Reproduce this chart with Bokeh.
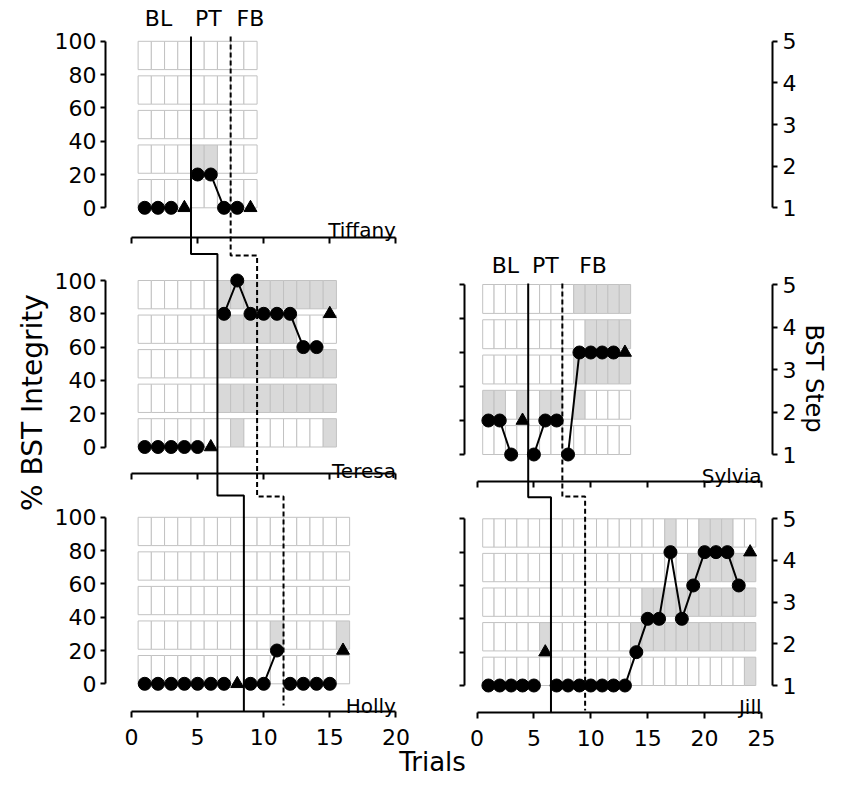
import math
from bokeh.plotting import figure
from bokeh.models import (Range1d, LinearAxis, FixedTicker, Label,
                          ColumnDataSource, CustomJSTickFormatter)
from bokeh.embed import file_html
from bokeh.resources import INLINE

# ---------------- data ----------------
participants = ["Tiffany", "Teresa", "Holly", "Sylvia", "Jill"]

tiffany_trials = [1, 2, 3, 4, 5, 6, 7, 8, 9]
tiffany_integrity = [0, 0, 0, 0, 20, 20, 0, 0, 0]
tiffany_probes = [4, 9]
tiffany_phase_starts = [5, 8]          # first PT trial, first FB trial
tiffany_shaded = {2: [5, 6]}           # step row -> shaded trials

teresa_trials = [1, 2, 3, 4, 5, 6, 7, 8, 9, 10, 11, 12, 13, 14, 15]
teresa_integrity = [0, 0, 0, 0, 0, 0, 80, 100, 80, 80, 80, 80, 60, 60, 80]
teresa_probes = [6, 15]
teresa_phase_starts = [7, 10]
teresa_shaded = {1: [8, 15],
                 2: [7, 8, 9, 10, 11, 12, 13, 14, 15],
                 3: [7, 8, 9, 10, 11, 12, 13, 14, 15],
                 4: [7, 8, 9, 10, 11, 12],
                 5: [7, 8, 9, 10, 11, 12, 13, 14, 15]}

holly_trials = [1, 2, 3, 4, 5, 6, 7, 8, 9, 10, 11, 12, 13, 14, 15, 16]
holly_integrity = [0, 0, 0, 0, 0, 0, 0, 0, 0, 0, 20, 0, 0, 0, 0, 20]
holly_probes = [8, 16]
holly_phase_starts = [9, 12]
holly_shaded = {2: [11, 16]}

sylvia_trials = [1, 2, 3, 4, 5, 6, 7, 8, 9, 10, 11, 12, 13]
sylvia_integrity = [20, 20, 0, 20, 0, 20, 20, 0, 60, 60, 60, 60, 60]
sylvia_probes = [4, 13]
sylvia_phase_starts = [5, 8]
sylvia_shaded = {2: [1, 2, 4, 6, 7, 9],
                 3: [9, 10, 11, 12, 13],
                 4: [10, 11, 12, 13],
                 5: [9, 10, 11, 12, 13]}

jill_trials = [1, 2, 3, 4, 5, 6, 7, 8, 9, 10, 11, 12, 13, 14, 15, 16, 17, 18,
               19, 20, 21, 22, 23, 24]
jill_integrity = [0, 0, 0, 0, 0, 20, 0, 0, 0, 0, 0, 0, 0, 20, 40, 40, 80, 40,
                  60, 80, 80, 80, 60, 80]
jill_probes = [6, 24]
jill_phase_starts = [7, 10]
jill_shaded = {1: [24],
               2: [6, 14, 15, 16, 17, 18, 19, 20, 21, 22, 23, 24],
               3: [15, 16, 17, 18, 19, 20, 21, 22, 23, 24],
               4: [19, 20, 21, 22, 23, 24],
               5: [17, 20, 21, 22]}

phase_names = ["BL", "PT", "FB"]
integrity_ticks = [0, 20, 40, 60, 80, 100]
step_ticks = [1, 2, 3, 4, 5]
left_trial_ticks = [0, 5, 10, 15, 20]
right_trial_ticks = [0, 5, 10, 15, 20, 25]

DATA = {
    "Tiffany": (tiffany_trials, tiffany_integrity, tiffany_probes, tiffany_phase_starts, tiffany_shaded),
    "Teresa": (teresa_trials, teresa_integrity, teresa_probes, teresa_phase_starts, teresa_shaded),
    "Holly": (holly_trials, holly_integrity, holly_probes, holly_phase_starts, holly_shaded),
    "Sylvia": (sylvia_trials, sylvia_integrity, sylvia_probes, sylvia_phase_starts, sylvia_shaded),
    "Jill": (jill_trials, jill_integrity, jill_probes, jill_phase_starts, jill_shaded),
}

# ---------------- layout (canvas pixels) and style ----------------
W, H = 829, 778
FONT = "DejaVu Sans"
CELL_FILL = "white"
SHADE_FILL = "#d9d9d9"
CELL_LINE = "#c2c2c2"
ROW_H, ROW_PITCH = 17.0, 20.75          # step rows in % units

COLS = {"L": dict(x0=131.0, ppu=13.22, yaxis_x=105.0, ticks=left_trial_ticks,
                  members=["Tiffany", "Teresa", "Holly"]),
        "R": dict(x0=476.5, ppu=11.38, yaxis_x=464.0, ticks=right_trial_ticks,
                  members=["Sylvia", "Jill"])}
STEP_AXIS_X = 772.0

PANEL = {
    "Tiffany": dict(col="L", y0=207.3, y100=40.8, xaxis=237.0, name_y=229.3,
                    ylabels=True, xlabels=False, step_axis=True),
    "Teresa": dict(col="L", y0=446.5, y100=280.0, xaxis=473.3, name_y=470.0,
                   ylabels=True, xlabels=False, step_axis=False),
    "Holly": dict(col="L", y0=683.3, y100=516.8, xaxis=710.5, name_y=705.0,
                  ylabels=True, xlabels=True, step_axis=False),
    "Sylvia": dict(col="R", y0=454.0, y100=284.0, xaxis=481.0, name_y=475.0,
                   ylabels=False, xlabels=False, step_axis=True),
    "Jill": dict(col="R", y0=685.0, y100=518.3, xaxis=711.5, name_y=706.7,
                 ylabels=False, xlabels=True, step_axis=True),
}
PHASE_LINE_Y = {"L": {"solid": [36, 253.5, 495, 710.5], "dashed": [36, 255, 496, 705]},
                "R": {"solid": [283, 496.7, 711.5], "dashed": [283, 496, 710]}}
PHASE_LABEL_POS = {"Tiffany": ([2.04, 5.82, 9.0], 18.0),
                   "Sylvia": ([2.5, 6.0, 10.2], 265.0)}


def trial_at(col, cx):
    c = COLS[col]
    return (cx - c["x0"]) / c["ppu"]


def pct_at(name, cy):
    l = PANEL[name]
    return (l["y0"] - cy) / (l["y0"] - l["y100"]) * 100.0


p = figure(width=W, height=H, output_backend="svg", toolbar_location=None,
           x_range=Range1d(0, W), y_range=Range1d(H, 0),
           x_axis_location=None, y_axis_location=None, min_border=0,
           outline_line_color=None, background_fill_color="white",
           border_fill_color="white")
p.grid.visible = False

p.extra_x_ranges = {"x" + c: Range1d(trial_at(c, 0), trial_at(c, W)) for c in COLS}
yr = {}
for name in participants:
    lo, hi = pct_at(name, H), pct_at(name, 0)
    yr["y" + name] = Range1d(lo, hi)
    yr["s" + name] = Range1d(1 + lo / 25.0, 1 + hi / 25.0)
p.extra_y_ranges = yr


def axis_style(ax, labels, size="22px", standoff=4, tick_out=5):
    ax.axis_line_width = 2
    ax.axis_line_color = "black"
    ax.major_tick_line_width = 2
    ax.major_tick_line_color = "black"
    ax.major_tick_in = 0
    ax.major_tick_out = tick_out
    ax.minor_tick_line_color = None
    ax.major_label_text_font = FONT
    ax.major_label_text_font_size = size
    ax.major_label_text_color = "black"
    ax.major_label_standoff = standoff
    if not labels:
        ax.formatter = CustomJSTickFormatter(code="return ''")


# ---------------- cells ----------------
for name in participants:
    trials, vals, probes, starts, shaded = DATA[name]
    lay = PANEL[name]
    xr_name, yr_name = "x" + lay["col"], "y" + name
    L, R, B, T, F = [], [], [], [], []
    for t in trials:
        for row in step_ticks:
            b = (row - 1) * ROW_PITCH
            L.append(t - 0.5); R.append(t + 0.5); B.append(b); T.append(b + ROW_H)
            F.append(SHADE_FILL if t in shaded.get(row, []) else CELL_FILL)
    src = ColumnDataSource(dict(left=L, right=R, bottom=B, top=T, fill=F))
    p.quad(left="left", right="right", bottom="bottom", top="top", source=src,
           fill_color="fill", line_color=CELL_LINE, line_width=1,
           x_range_name=xr_name, y_range_name=yr_name)

# ---------------- phase-change lines ----------------
for col, c in COLS.items():
    for kind, idx in (("solid", 0), ("dashed", 1)):
        ylist = PHASE_LINE_Y[col][kind]
        xs, ys = [], []
        for i, name in enumerate(c["members"]):
            x = DATA[name][3][idx] - 0.5
            xs += [x, x]
            ys += [ylist[i], ylist[i + 1]]
        p.line(xs, ys, line_color="black", line_width=2,
               line_dash="solid" if kind == "solid" else "5 3",
               x_range_name="x" + col)

# ---------------- data series ----------------
for name in participants:
    trials, vals, probes, starts, shaded = DATA[name]
    lay = PANEL[name]
    col = lay["col"]
    xr_name, yr_name = "x" + col, "y" + name
    bounds = [trials[0], starts[0], starts[1], trials[-1] + 1]
    for k in range(3):
        pts = [(t, v) for t, v in zip(trials, vals)
               if bounds[k] <= t < bounds[k + 1] and t not in probes]
        if len(pts) >= 2:
            p.line([q[0] for q in pts], [q[1] for q in pts], line_color="black",
                   line_width=2, x_range_name=xr_name, y_range_name=yr_name)
    cx = [t for t in trials if t not in probes]
    cy = [v for t, v in zip(trials, vals) if t not in probes]
    tx = [t for t in trials if t in probes]
    ty = [v for t, v in zip(trials, vals) if t in probes]
    p.scatter(cx, cy, marker="circle", size=13, fill_color="black", line_color="black",
              x_range_name=xr_name, y_range_name=yr_name)
    p.scatter(tx, ty, marker="triangle", size=13, fill_color="black", line_color="black",
              x_range_name=xr_name, y_range_name=yr_name)

    # axes
    yax = LinearAxis(x_range_name=xr_name, y_range_name=yr_name,
                     fixed_location=trial_at(col, COLS[col]["yaxis_x"]),
                     bounds=(integrity_ticks[0], integrity_ticks[-1]),
                     ticker=FixedTicker(ticks=integrity_ticks))
    axis_style(yax, lay["ylabels"])
    p.add_layout(yax, "left")

    xax = LinearAxis(x_range_name=xr_name, y_range_name=yr_name,
                     fixed_location=pct_at(name, lay["xaxis"]),
                     bounds=(COLS[col]["ticks"][0], COLS[col]["ticks"][-1]),
                     ticker=FixedTicker(ticks=COLS[col]["ticks"]))
    axis_style(xax, lay["xlabels"], standoff=12, tick_out=6)
    p.add_layout(xax, "below")

    if lay["step_axis"]:
        sax = LinearAxis(x_range_name="xR", y_range_name="s" + name,
                         fixed_location=trial_at("R", STEP_AXIS_X),
                         bounds=(step_ticks[0], step_ticks[-1]),
                         ticker=FixedTicker(ticks=step_ticks))
        axis_style(sax, True, standoff=5)
        p.add_layout(sax, "right")

    # participant name
    right_edge = COLS[col]["ticks"][-1]
    p.add_layout(Label(x=right_edge, y=pct_at(name, lay["name_y"]), text=name,
                       x_range_name=xr_name, y_range_name=yr_name,
                       text_align="right", text_baseline="alphabetic",
                       text_font=FONT, text_font_size="20px", text_color="black"))

# phase labels
for name, (xs, cyy) in PHASE_LABEL_POS.items():
    col = PANEL[name]["col"]
    for x, lab in zip(xs, phase_names):
        p.add_layout(Label(x=x, y=pct_at(name, cyy), text=lab,
                           x_range_name="x" + col, y_range_name="y" + name,
                           text_align="center", text_baseline="middle",
                           text_font=FONT, text_font_size="22px", text_color="black"))

# titles (page coordinates)
p.add_layout(Label(x=32, y=402, text="% BST Integrity", angle=math.pi / 2,
                   text_align="center", text_baseline="middle", text_font=FONT,
                   text_font_size="28px", text_color="black"))
p.add_layout(Label(x=813, y=378, text="BST Step", angle=-math.pi / 2,
                   text_align="center", text_baseline="middle", text_font=FONT,
                   text_font_size="24px", text_color="black"))
p.add_layout(Label(x=432, y=761, text="Trials",
                   text_align="center", text_baseline="middle", text_font=FONT,
                   text_font_size="26px", text_color="black"))

open("out.html", "w").write(file_html(p, INLINE))
